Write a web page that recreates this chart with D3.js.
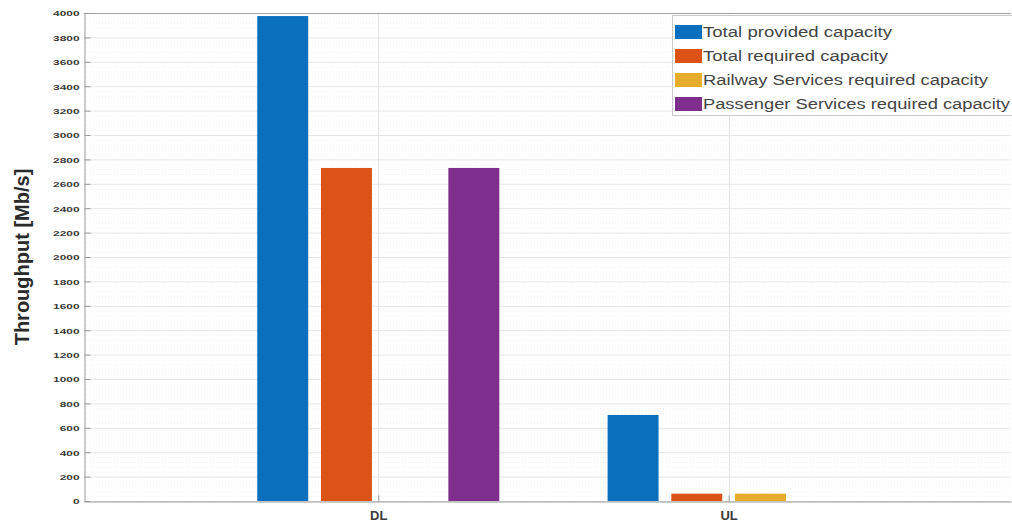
<!DOCTYPE html>
<html>
<head>
<meta charset="utf-8">
<script src="https://cdn.jsdelivr.net/npm/d3@7/dist/d3.min.js"></script>
<style>
  html, body { margin: 0; padding: 0; background: #fff; }
  svg { display: block; font-family: "Liberation Sans", Arial, sans-serif; }
</style>
</head>
<body>
<svg id="chart" width="1012" height="526"></svg>
<script>
// Link directions
const categories = ["DL", "UL"];

// Series names (legend order)
const seriesNames = [
  "Total provided capacity",
  "Total required capacity",
  "Railway Services required capacity",
  "Passenger Services required capacity"
];

// Throughput per series, one value per link direction [DL, UL] in Mb/s
const totalProvided     = [3975, 705];
const totalRequired     = [2730, 60];
const railwayRequired   = [0, 60];
const passengerRequired = [2730, 0];

// Y axis tick labels
const yTicks = [0, 200, 400, 600, 800, 1000, 1200, 1400, 1600, 1800, 2000,
                2200, 2400, 2600, 2800, 3000, 3200, 3400, 3600, 3800, 4000];

const seriesValues = [totalProvided, totalRequired, railwayRequired, passengerRequired];
const colors = ["#0a6fbd", "#dc5318", "#e6ad2c", "#7e2f8e"];

const svg = d3.select("#chart");
const plotL = 84, plotR = 1011, plotT = 13, plotB = 501;

// Category axis runs on a numeric scale so grouped bars can be offset in data units
const x = d3.scaleLinear().domain([0.16, 2.806]).range([plotL, plotR]);
const y = d3.scaleLinear().domain([0, 4000]).range([plotB, plotT]);

const nSeries = seriesNames.length;
const groupWidth = Math.min(0.8, nSeries / (nSeries + 1.5));
const slot = groupWidth / nSeries;
const barW = slot * 0.8;

const plot = svg.append("g");

// Minor horizontal grid
const minor = d3.range(0, 4001, 40).filter(v => v % 200 !== 0);
plot.append("g").selectAll("line").data(minor).join("line")
  .attr("x1", plotL).attr("x2", plotR)
  .attr("y1", d => y(d) + 0.5).attr("y2", d => y(d) + 0.5)
  .attr("stroke", "#f1f1f1").attr("stroke-width", 1)
  .attr("stroke-dasharray", "1,2");

// Major horizontal grid
plot.append("g").selectAll("line").data(yTicks).join("line")
  .attr("x1", plotL).attr("x2", plotR)
  .attr("y1", d => y(d) + 0.5).attr("y2", d => y(d) + 0.5)
  .attr("stroke", "#e6e6e6").attr("stroke-width", 1);

// Vertical grid at category positions
plot.append("g").selectAll("line").data(categories).join("line")
  .attr("x1", (d, i) => Math.round(x(i + 1)) + 0.5)
  .attr("x2", (d, i) => Math.round(x(i + 1)) + 0.5)
  .attr("y1", plotT).attr("y2", plotB)
  .attr("stroke", "#e3e3e3").attr("stroke-width", 1);

// Bars
const barData = [];
seriesValues.forEach((vals, s) => {
  vals.forEach((v, c) => barData.push({ s, c, v }));
});
plot.append("g").selectAll("rect").data(barData).join("rect")
  .attr("x", d => x(d.c + 1 + (d.s - (nSeries - 1) / 2) * slot - barW / 2))
  .attr("width", d => x(barW) - x(0))
  .attr("y", d => y(d.v))
  .attr("height", d => y(0) - y(d.v))
  .attr("fill", d => colors[d.s]);

// Axes box top edge
plot.append("line").attr("x1", plotL).attr("x2", plotR).attr("y1", plotT + 0.5).attr("y2", plotT + 0.5)
  .attr("stroke", "#a0a0a0");

// Y axis with inward ticks
const yAxis = d3.axisLeft(y).tickValues(yTicks).tickFormat(d3.format("d"))
  .tickSizeInner(-6).tickSizeOuter(0).tickPadding(11);
const gy = svg.append("g").attr("transform", `translate(${plotL + 0.5},0)`).call(yAxis);
gy.select(".domain").attr("stroke", "#9a9a9a");
gy.selectAll(".tick line").attr("stroke", "#9a9a9a");
gy.selectAll(".tick text")
  .attr("fill", "#3a3a3a")
  .attr("font-size", 8)
  .attr("font-weight", "bold")
  .attr("dy", "0.35em")
  .attr("x", -5)
  .each(function(d) {
    const w = String(d).length * 6.6;
    d3.select(this).attr("textLength", w).attr("lengthAdjust", "spacingAndGlyphs");
  });

// X axis with inward ticks
const xAxis = d3.axisBottom(x).tickValues([1, 2]).tickFormat((d) => categories[d - 1])
  .tickSizeInner(-6).tickSizeOuter(0).tickPadding(9);
const gx = svg.append("g").attr("transform", `translate(0,${plotB + 0.5})`).call(xAxis);
gx.select(".domain").attr("stroke", "#9a9a9a");
gx.selectAll(".tick line").attr("stroke", "#9a9a9a");
gx.selectAll(".tick text")
  .attr("fill", "#3a3a3a")
  .attr("font-size", 13)
  .attr("font-weight", "bold");

// Y axis title
svg.append("text")
  .attr("transform", `translate(29,${(plotT + plotB) / 2}) rotate(-90)`)
  .attr("text-anchor", "middle")
  .attr("font-size", 20)
  .attr("font-weight", "bold")
  .attr("fill", "#2a2a2a")
  .text("Throughput [Mb/s]");

// Legend
const legend = svg.append("g");
legend.append("rect")
  .attr("x", 672.5).attr("y", 15.5).attr("width", 340).attr("height", 100)
  .attr("fill", "#fff").attr("stroke", "#c8c8c8");
const textWidths = [189, 185, 285, 307];
const rows = legend.selectAll("g.row").data(seriesNames).join("g")
  .attr("class", "row")
  .attr("transform", (d, i) => `translate(675,${32 + i * 24})`);
rows.append("rect")
  .attr("x", 0).attr("y", -7).attr("width", 27).attr("height", 14)
  .attr("fill", (d, i) => colors[i]);
rows.append("text")
  .attr("x", 28).attr("y", 5)
  .attr("font-size", 14)
  .attr("fill", "#444")
  .attr("textLength", (d, i) => textWidths[i])
  .attr("lengthAdjust", "spacingAndGlyphs")
  .text(d => d);
</script>
</body>
</html>
